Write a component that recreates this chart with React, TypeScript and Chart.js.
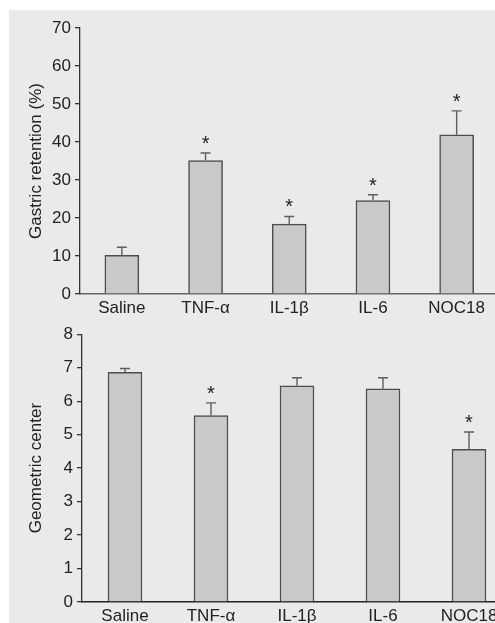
import React, { useEffect, useRef } from "react";
import { Chart, registerables } from "chart.js";

Chart.register(...registerables);

const categories = ["Saline", "TNF-α", "IL-1β", "IL-6", "NOC18"];

const retentionValues = [10.2, 35.1, 18.4, 24.6, 41.9];
const retentionErrors = [2.1, 2.0, 2.0, 1.5, 6.3];
const retentionSignificant = [false, true, true, true, true];
const retentionMax = 70;
const retentionStep = 10;

const centerValues = [6.86, 5.57, 6.46, 6.37, 4.56];
const centerErrors = [0.12, 0.38, 0.24, 0.33, 0.52];
const centerSignificant = [false, true, false, false, true];
const centerMax = 8;
const centerStep = 1;

const FONT = "'Liberation Sans', Arial, Helvetica, sans-serif";
const TEXT = "#222222";

const errorBarPlugin = {
  id: "errorBars",
  afterDatasetsDraw(chart: any, _args: any, opts: any) {
    const { ctx } = chart;
    const meta = chart.getDatasetMeta(0);
    const yScale = chart.scales.y;
    const values = chart.data.datasets[0].data as number[];
    ctx.save();
    meta.data.forEach((bar: any, i: number) => {
      const x = bar.x;
      const base = bar.y;
      const top = yScale.getPixelForValue(values[i] + opts.errors[i]);
      ctx.strokeStyle = "#5f5f5f";
      ctx.lineWidth = 1.4;
      ctx.beginPath();
      ctx.moveTo(x, base);
      ctx.lineTo(x, top);
      ctx.moveTo(x - 5, top);
      ctx.lineTo(x + 5, top);
      ctx.stroke();
      if (opts.significant[i]) {
        ctx.fillStyle = TEXT;
        ctx.font = `20px ${FONT}`;
        ctx.textAlign = "center";
        ctx.textBaseline = "alphabetic";
        ctx.fillText("*", x, top - 3);
      }
    });
    ctx.restore();
  },
};

function makeConfig(
  values: number[],
  errors: number[],
  significant: boolean[],
  max: number,
  step: number,
  title: string,
  padding: { top: number; right: number },
  yWidth: number,
  xAxisColor: string
): any {
  return {
    type: "bar",
    data: {
      labels: categories,
      datasets: [
        {
          data: values,
          backgroundColor: "#c8c9cb",
          borderColor: "#4d4d4d",
          borderWidth: 1.5,
          barThickness: 34,
        },
      ],
    },
    options: {
      animation: false,
      responsive: false,
      maintainAspectRatio: false,
      layout: { padding: { top: padding.top, right: padding.right, left: 0, bottom: 0 } },
      plugins: {
        legend: { display: false },
        tooltip: { enabled: false },
        errorBars: { errors, significant },
      },
      scales: {
        x: {
          grid: { display: false, drawTicks: false },
          border: { display: true, color: xAxisColor, width: 1.4 },
          ticks: { color: TEXT, font: { family: FONT, size: 17 }, padding: 4, maxRotation: 0, autoSkip: false },
          afterFit: (s: any) => {
            s.height = 30;
          },
        },
        y: {
          min: 0,
          max,
          grid: { drawOnChartArea: false, drawTicks: true, tickLength: 5, color: "#333", lineWidth: 1.3 },
          border: { display: true, color: "#333", width: 1.3 },
          ticks: { stepSize: step, color: TEXT, font: { family: FONT, size: 17 }, padding: 4 },
          title: {
            display: true,
            text: title,
            color: TEXT,
            font: { family: FONT, size: 17 },
            padding: { top: 25.8, bottom: 0 },
          },
          afterFit: (s: any) => {
            s.width = yWidth;
          },
        },
      },
    },
    plugins: [errorBarPlugin],
  };
}

export default function App() {
  const topRef = useRef<HTMLCanvasElement>(null);
  const botRef = useRef<HTMLCanvasElement>(null);

  useEffect(() => {
    const c1 = new Chart(
      topRef.current as HTMLCanvasElement,
      makeConfig(
        retentionValues,
        retentionErrors,
        retentionSignificant,
        retentionMax,
        retentionStep,
        "Gastric retention (%)",
        { top: 28, right: 21.5 },
        80,
        "#666"
      )
    );
    const c2 = new Chart(
      botRef.current as HTMLCanvasElement,
      makeConfig(
        centerValues,
        centerErrors,
        centerSignificant,
        centerMax,
        centerStep,
        "Geometric center",
        { top: 34.3, right: 18 },
        82,
        "#222"
      )
    );
    return () => {
      c1.destroy();
      c2.destroy();
    };
  }, []);

  return (
    <div
      style={{
        position: "fixed",
        left: 0,
        top: 0,
        width: 495,
        height: 623,
        overflow: "hidden",
        background: "#ffffff",
      }}
    >
      <div
        style={{
          position: "absolute",
          left: 9,
          top: 10,
          right: 0,
          bottom: 0,
          background: "#e9eaec",
        }}
      />
      <canvas
        ref={topRef}
        width={520}
        height={324}
        style={{ position: "absolute", left: 0, top: 0, width: 520, height: 324 }}
      />
      <canvas
        ref={botRef}
        width={530}
        height={332}
        style={{ position: "absolute", left: 0, top: 300, width: 530, height: 332 }}
      />
    </div>
  );
}
